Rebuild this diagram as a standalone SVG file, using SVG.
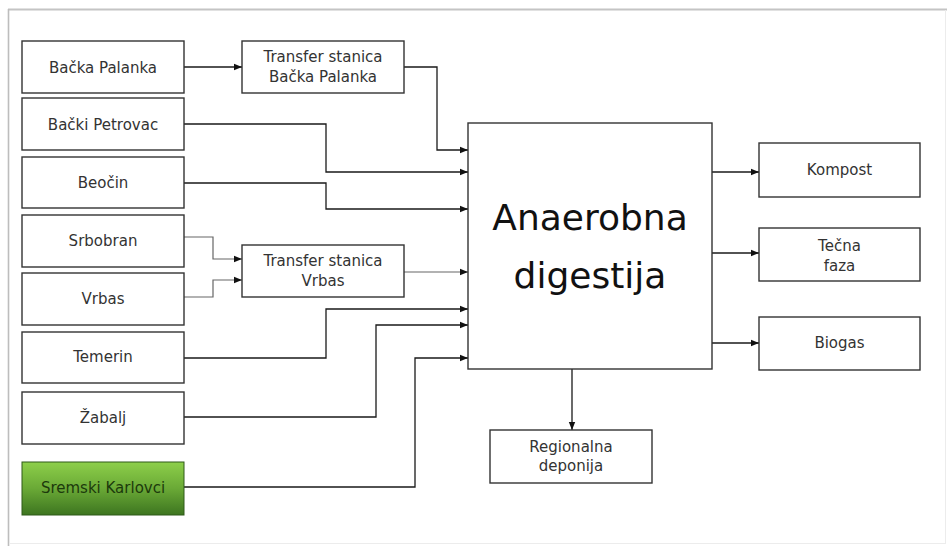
<svg xmlns="http://www.w3.org/2000/svg" width="947" height="546" viewBox="0 0 947 546">
<defs>
<linearGradient id="green" x1="0" y1="0" x2="0" y2="1">
<stop offset="0" stop-color="#8dcf4a"/>
<stop offset="0.5" stop-color="#6aa936"/>
<stop offset="1" stop-color="#3d7520"/>
</linearGradient>
<marker id="arr" markerWidth="8" markerHeight="8" refX="8" refY="4" orient="auto" markerUnits="userSpaceOnUse">
<path d="M0,0.8 L8,4 L0,7.2 Z" fill="#111"/>
</marker>
</defs>
<style>
.box{fill:#fff;stroke:#333;stroke-width:1.4}
.t{font-family:"DejaVu Sans",Verdana,sans-serif;font-size:15px;fill:#333;text-anchor:middle}
.big{font-family:"DejaVu Sans",Verdana,sans-serif;font-size:36px;fill:#111;text-anchor:middle}
.c{fill:none;stroke:#1a1a1a;stroke-width:1.3}
.g{fill:none;stroke:#666;stroke-width:1.2}
</style>
<rect x="0" y="0" width="947" height="546" fill="#fff"/>
<line x1="8" y1="9.5" x2="947" y2="9.5" stroke="#c4c4c4" stroke-width="2"/>
<line x1="8.5" y1="9" x2="8.5" y2="546" stroke="#bdbdbd" stroke-width="1.6"/>
<line x1="945.5" y1="10" x2="945.5" y2="543" stroke="#ececec" stroke-width="1"/>
<line x1="9" y1="543.5" x2="946" y2="543.5" stroke="#ececec" stroke-width="1"/>

<g id="connectors">
<path class="c" d="M184,67 H242" marker-end="url(#arr)"/>
<path class="c" d="M404,67 H437 V150 H468" marker-end="url(#arr)"/>
<path class="c" d="M184,124 H326 V172 H468" marker-end="url(#arr)"/>
<path class="c" d="M184,183 H326 V209 H468" marker-end="url(#arr)"/>
<path class="g" d="M184,237 H213 V259 H242" marker-end="url(#arr)"/>
<path class="g" d="M184,297 H213 V280 H242" marker-end="url(#arr)"/>
<path class="g" d="M404,272 H468" marker-end="url(#arr)"/>
<path class="c" d="M184,358 H326 V309 H468" marker-end="url(#arr)"/>
<path class="c" d="M184,417 H376 V325 H468" marker-end="url(#arr)"/>
<path class="c" d="M184,487 H415 V358 H468" marker-end="url(#arr)"/>
<path class="c" d="M712,172 H759" marker-end="url(#arr)"/>
<path class="c" d="M712,253 H759" marker-end="url(#arr)"/>
<path class="c" d="M712,343 H759" marker-end="url(#arr)"/>
<path class="c" d="M572,369 V430" marker-end="url(#arr)"/>
</g>

<g id="backa-palanka"><rect class="box" x="22" y="41" width="162" height="52"/><text class="t" x="103" y="73">Bačka Palanka</text></g>
<g id="backi-petrovac"><rect class="box" x="22" y="98" width="162" height="52"/><text class="t" x="103" y="130">Bački Petrovac</text></g>
<g id="beocin"><rect class="box" x="22" y="157" width="162" height="51"/><text class="t" x="103" y="188">Beočin</text></g>
<g id="srbobran"><rect class="box" x="22" y="215" width="162" height="52"/><text class="t" x="103" y="246">Srbobran</text></g>
<g id="vrbas"><rect class="box" x="22" y="273" width="162" height="52"/><text class="t" x="103" y="304">Vrbas</text></g>
<g id="temerin"><rect class="box" x="22" y="332" width="162" height="51"/><text class="t" x="103" y="362">Temerin</text></g>
<g id="zabalj"><rect class="box" x="22" y="392" width="162" height="52"/><text class="t" x="103" y="423">Žabalj</text></g>
<g id="sremski-karlovci"><rect x="22" y="462" width="162" height="53" fill="url(#green)" stroke="#2f5a18" stroke-width="1"/><text class="t" x="103" y="493" style="fill:#1c3a0c">Sremski Karlovci</text></g>

<g id="transfer-bp"><rect class="box" x="242" y="41" width="162" height="52"/><text class="t" x="323" y="62">Transfer stanica</text><text class="t" x="323" y="82">Bačka Palanka</text></g>
<g id="transfer-vrbas"><rect class="box" x="242" y="245" width="162" height="52"/><text class="t" x="323" y="266">Transfer stanica</text><text class="t" x="323" y="286">Vrbas</text></g>

<g id="anaerobna"><rect class="box" x="468" y="123" width="244" height="246"/><text class="big" x="590" y="230">Anaerobna</text><text class="big" x="590" y="288">digestija</text></g>

<g id="kompost"><rect class="box" x="759" y="143" width="161" height="54"/><text class="t" x="839.5" y="175">Kompost</text></g>
<g id="tecna-faza"><rect class="box" x="759" y="228" width="161" height="53"/><text class="t" x="839.5" y="251">Tečna</text><text class="t" x="839.5" y="271">faza</text></g>
<g id="biogas"><rect class="box" x="759" y="317" width="161" height="53"/><text class="t" x="839.5" y="348">Biogas</text></g>
<g id="regionalna"><rect class="box" x="490" y="430" width="162" height="53"/><text class="t" x="571" y="452">Regionalna</text><text class="t" x="571" y="471">deponija</text></g>
</svg>
